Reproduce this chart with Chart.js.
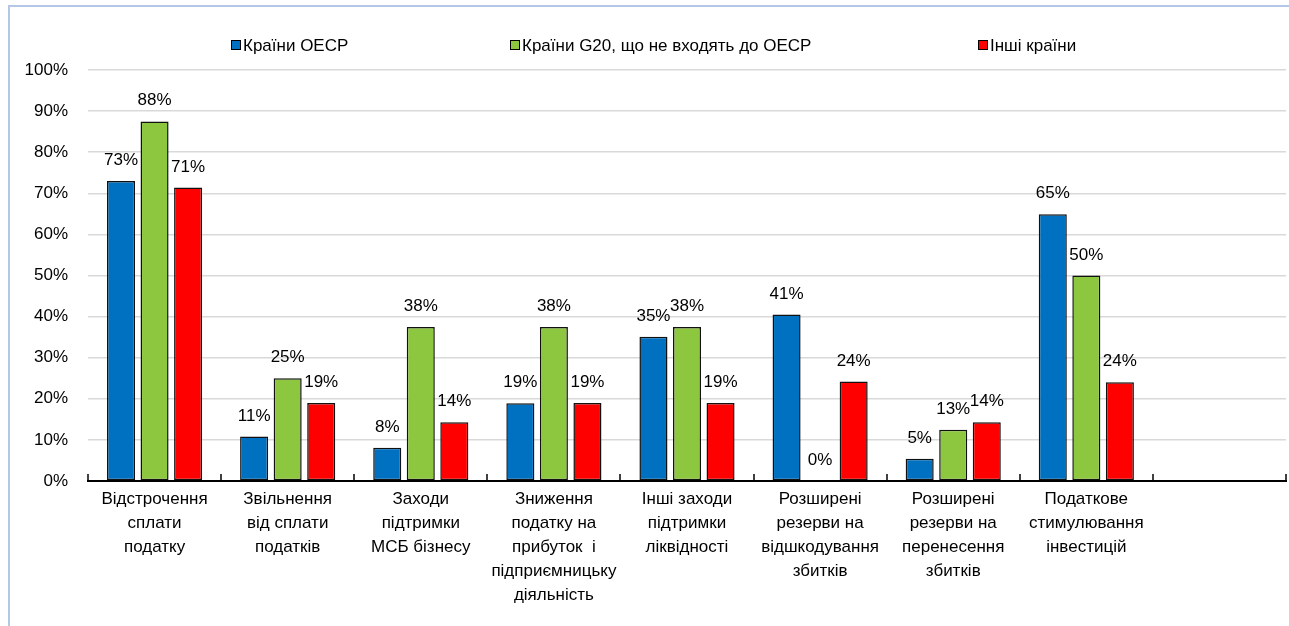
<!DOCTYPE html>
<html><head><meta charset="utf-8">
<script src="https://cdn.jsdelivr.net/npm/chart.js@4.4.1/dist/chart.umd.min.js"></script>
<style>
html,body{margin:0;padding:0;background:#fff;}
#wrap{position:relative;width:1289px;height:626px;overflow:hidden;background:#fff;}
#frame{position:absolute;left:8px;top:5px;width:1400px;height:700px;border-left:2px solid #b4c7e7;border-top:2px solid #b4c7e7;}
canvas{position:absolute;left:0;top:0;}
</style></head><body>
<div id="wrap"><div id="frame"></div><canvas id="c" width="1289" height="626"></canvas></div>
<script>
const categories = [
  ["Відстрочення","сплати","податку"],
  ["Звільнення","від сплати","податків"],
  ["Заходи","підтримки","МСБ бізнесу"],
  ["Зниження","податку на","прибуток  і","підприємницьку","діяльність"],
  ["Інші заходи","підтримки","ліквідності"],
  ["Розширені","резерви на","відшкодування","збитків"],
  ["Розширені","резерви на","перенесення","збитків"],
  ["Податкове","стимулювання","інвестицій"],
  ""
];
const seriesNames = ["Країни ОЕСР", "Країни G20, що не входять до ОЕСР", "Інші країни"];
const oecdValues  = [73.0, 10.8, 8.1, 18.9, 35.1, 40.5, 5.4, 64.9, null];
const g20Values   = [87.5, 25.0, 37.5, 37.5, 37.5, 0, 12.5, 50.0, null];
const otherValues = [71.4, 19.0, 14.3, 19.0, 19.0, 24.2, 14.3, 24.0, null];
const seriesColors = ["#0070C0", "#8DC63F", "#FF0000"];
const yTickStep = 10;

const FONT = "'Liberation Sans', Arial, sans-serif";
const FS = 17;
const legendX = [231, 510, 978];

const valueLabels = {
  id: 'valueLabels',
  afterDatasetsDraw(chart) {
    const ctx = chart.ctx;
    ctx.save();
    ctx.font = FS + "px " + FONT;
    ctx.fillStyle = "#000";
    ctx.textAlign = "center";
    ctx.textBaseline = "alphabetic";
    chart.data.datasets.forEach((ds, di) => {
      const meta = chart.getDatasetMeta(di);
      meta.data.forEach((bar, i) => {
        const v = ds.data[i];
        if (v === null || v === undefined) return;
        ctx.fillText(Math.round(v) + "%", bar.x, bar.y - 16);
      });
    });
    ctx.restore();
  }
};

const axisTicks = {
  id: 'axisTicks',
  afterDraw(chart) {
    const xs = chart.scales.x;
    const ctx = chart.ctx;
    const y = chart.chartArea.bottom;
    ctx.save();
    ctx.strokeStyle = "#000";
    ctx.lineWidth = 1.5;
    for (let i = 0; i <= categories.length; i++) {
      const x = Math.round(xs.getPixelForValue(i - 0.5));
      ctx.beginPath();
      ctx.moveTo(x, y);
      ctx.lineTo(x, y - 7);
      ctx.stroke();
    }
    ctx.restore();
  }
};

const customLegend = {
  id: 'customLegend',
  afterDraw(chart) {
    const ctx = chart.ctx;
    ctx.save();
    ctx.font = FS + "px " + FONT;
    ctx.textBaseline = "middle";
    ctx.textAlign = "left";
    const y = 45;
    chart.data.datasets.forEach((ds, i) => {
      const x = legendX[i];
      ctx.fillStyle = ds.backgroundColor;
      ctx.fillRect(x, y - 5, 10, 10);
      ctx.strokeStyle = "#000";
      ctx.lineWidth = 1;
      ctx.strokeRect(x + 0.5, y - 4.5, 9, 9);
      ctx.fillStyle = "#000";
      ctx.fillText(ds.label, x + 12, y + 1);
    });
    ctx.restore();
  }
};

const mkDs = (i, data) => ({
  label: seriesNames[i],
  data: data,
  backgroundColor: seriesColors[i],
  borderColor: "#111",
  borderWidth: 1.5,
  borderSkipped: false,
  categoryPercentage: 0.756,
  barPercentage: 0.836
});

new Chart(document.getElementById('c'), {
  type: 'bar',
  data: {
    labels: categories,
    datasets: [mkDs(0, oecdValues), mkDs(1, g20Values), mkDs(2, otherValues)]
  },
  options: {
    responsive: false,
    animation: false,
    devicePixelRatio: 1,
    layout: { padding: { top: 70, right: 3, left: 0, bottom: 0 } },
    plugins: { legend: { display: false }, tooltip: { enabled: false } },
    scales: {
      x: {
        grid: { display: false, drawTicks: false },
        border: { display: true, color: "#000", width: 2 },
        ticks: { font: { family: FONT, size: FS, lineHeight: 1.42 }, color: "#000", padding: 6, maxRotation: 0, autoSkip: false },
        afterFit: (s) => { s.height = 145; }
      },
      y: {
        min: 0, max: 100,
        ticks: { stepSize: yTickStep, callback: (v) => v + "%", font: { family: FONT, size: FS }, color: "#000", padding: 20 },
        grid: { color: "#d9d9d9", lineWidth: 1.5, drawTicks: false },
        border: { display: false },
        afterFit: (s) => { s.width = 88; }
      }
    }
  },
  plugins: [valueLabels, axisTicks, customLegend]
});
</script>
</body></html>
